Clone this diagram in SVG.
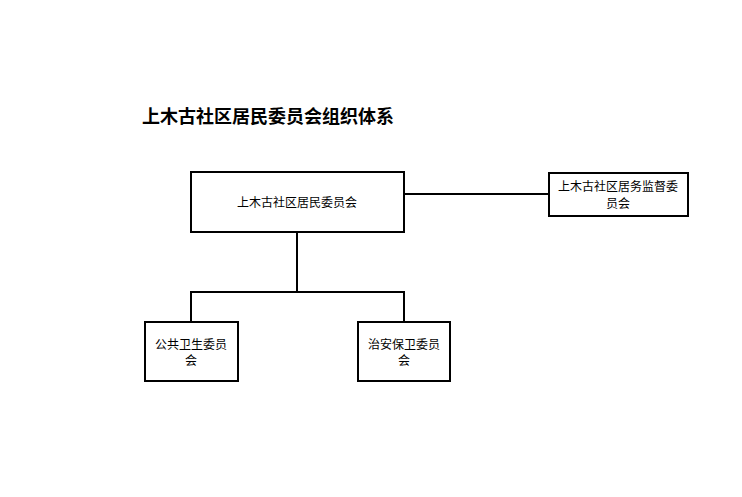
<svg xmlns="http://www.w3.org/2000/svg" width="742" height="497" viewBox="0 0 742 497">
<style>
rect{fill:#fff;stroke:#000;stroke-width:2}
.c line{stroke:#000;stroke-width:2}
text{font-family:"Noto Sans CJK SC","Liberation Serif",serif;font-size:12px;fill:#000;text-anchor:middle}
.t{font-size:18px;text-anchor:start;font-weight:bold}
</style>
<rect width="742" height="497" style="stroke:none"/>
<text class="t" x="142" y="123">上木古社区居民委员会组织体系</text>
<g class="c">
<line x1="404" y1="194" x2="549" y2="194"/>
<line x1="297" y1="232" x2="297" y2="292"/>
<line x1="190" y1="292" x2="405" y2="292"/>
<line x1="191" y1="291" x2="191" y2="322"/>
<line x1="404" y1="291" x2="404" y2="322"/>
</g>
<g id="main"><rect x="191" y="172" width="213" height="60"/><text x="297" y="207">上木古社区居民委员会</text></g>
<g id="jw"><rect x="549" y="173" width="139" height="43"/><text x="618" y="191">上木古社区居务监督委</text><text x="618" y="208">员会</text></g>
<g id="ws"><rect x="145" y="322" width="93" height="59"/><text x="191" y="349">公共卫生委员</text><text x="191" y="365">会</text></g>
<g id="za"><rect x="358" y="322" width="92" height="59"/><text x="404" y="349">治安保卫委员</text><text x="404" y="365">会</text></g>
</svg>
